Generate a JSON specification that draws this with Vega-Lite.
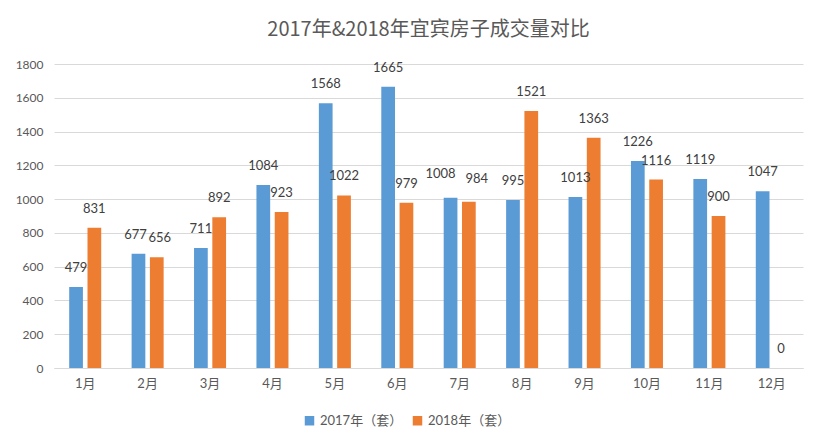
{
  "$schema": "https://vega.github.io/schema/vega-lite/v6.json",
  "width": 749,
  "height": 304,
  "autosize": {"type": "none"},
  "padding": {"left": 54, "top": 64, "right": 19, "bottom": 80},
  "background": "white",
  "title": {"text": "2017年&2018年宜宾房子成交量对比", "fontSize": 20, "font": "Noto Sans CJK SC", "fontWeight": "normal", "color": "#595959", "anchor": "middle", "offset": 18},
  "data": {"values": [
    {"month": "1月", "series": "2017年（套）", "value": 479},
    {"month": "2月", "series": "2017年（套）", "value": 677},
    {"month": "3月", "series": "2017年（套）", "value": 711},
    {"month": "4月", "series": "2017年（套）", "value": 1084},
    {"month": "5月", "series": "2017年（套）", "value": 1568},
    {"month": "6月", "series": "2017年（套）", "value": 1665},
    {"month": "7月", "series": "2017年（套）", "value": 1008},
    {"month": "8月", "series": "2017年（套）", "value": 995},
    {"month": "9月", "series": "2017年（套）", "value": 1013},
    {"month": "10月", "series": "2017年（套）", "value": 1226},
    {"month": "11月", "series": "2017年（套）", "value": 1119},
    {"month": "12月", "series": "2017年（套）", "value": 1047},
    {"month": "1月", "series": "2018年（套）", "value": 831},
    {"month": "2月", "series": "2018年（套）", "value": 656},
    {"month": "3月", "series": "2018年（套）", "value": 892},
    {"month": "4月", "series": "2018年（套）", "value": 923},
    {"month": "5月", "series": "2018年（套）", "value": 1022},
    {"month": "6月", "series": "2018年（套）", "value": 979},
    {"month": "7月", "series": "2018年（套）", "value": 984},
    {"month": "8月", "series": "2018年（套）", "value": 1521},
    {"month": "9月", "series": "2018年（套）", "value": 1363},
    {"month": "10月", "series": "2018年（套）", "value": 1116},
    {"month": "11月", "series": "2018年（套）", "value": 900},
    {"month": "12月", "series": "2018年（套）", "value": 0}
  ]},
  "encoding": {
    "x": {"field": "month", "type": "nominal", "sort": null,
      "scale": {"paddingInner": 0.487, "paddingOuter": 0.2435},
      "axis": {"title": null, "labelAngle": 0, "ticks": false, "domainColor": "#D9D9D9", "labelPadding": 9, "labelFontSize": 13, "labelColor": "#595959", "labelFont": "Lato, Noto Sans CJK SC"}},
    "xOffset": {"field": "series", "type": "nominal", "scale": {"paddingInner": 0.25, "paddingOuter": 0}},
    "y": {"field": "value", "type": "quantitative",
      "scale": {"domain": [0, 1800], "nice": false},
      "axis": {"title": null, "values": [0,200,400,600,800,1000,1200,1400,1600,1800], "format": "d", "ticks": false, "domain": false, "gridColor": "#D9D9D9", "labelPadding": 11, "labelFontSize": 12, "labelColor": "#595959", "labelFont": "Lato"}}
  },
  "layer": [
    {"mark": {"type": "bar"},
     "encoding": {"color": {"field": "series", "type": "nominal",
       "scale": {"range": ["#5B9BD5", "#ED7D31"]},
       "legend": {"title": null, "orient": "none", "direction": "horizontal", "legendX": 249, "legendY": 350, "symbolType": "square", "symbolSize": 90, "symbolStrokeWidth": 0, "labelFontSize": 13, "labelColor": "#595959", "labelFont": "Lato, Noto Sans CJK SC", "columnPadding": 8, "symbolOpacity": 1}}}},
    {"transform": [{"filter": "datum.month != '7月' && datum.month != '2月'"}],
     "mark": {"type": "text", "baseline": "bottom", "dy": -12, "fontSize": 13, "color": "#404040", "font": "Lato"},
     "encoding": {"text": {"field": "value", "type": "quantitative"}}},
    {"transform": [{"filter": "datum.month == '2月' && datum.series == '2017年（套）'"}],
     "mark": {"type": "text", "baseline": "bottom", "dy": -12, "dx": -3, "fontSize": 13, "color": "#404040", "font": "Lato"},
     "encoding": {"text": {"field": "value", "type": "quantitative"}}},
    {"transform": [{"filter": "datum.month == '2月' && datum.series == '2018年（套）'"}],
     "mark": {"type": "text", "baseline": "bottom", "dy": -12, "dx": 3, "fontSize": 13, "color": "#404040", "font": "Lato"},
     "encoding": {"text": {"field": "value", "type": "quantitative"}}},
    {"transform": [{"filter": "datum.month == '7月' && datum.series == '2017年（套）'"}],
     "mark": {"type": "text", "baseline": "bottom", "dy": -17, "dx": -10, "fontSize": 13, "color": "#404040", "font": "Lato"},
     "encoding": {"text": {"field": "value", "type": "quantitative"}}},
    {"transform": [{"filter": "datum.month == '7月' && datum.series == '2018年（套）'"}],
     "mark": {"type": "text", "baseline": "bottom", "dy": -16, "dx": 8, "fontSize": 13, "color": "#404040", "font": "Lato"},
     "encoding": {"text": {"field": "value", "type": "quantitative"}}}
  ],
  "config": {"view": {"stroke": null}}
}
